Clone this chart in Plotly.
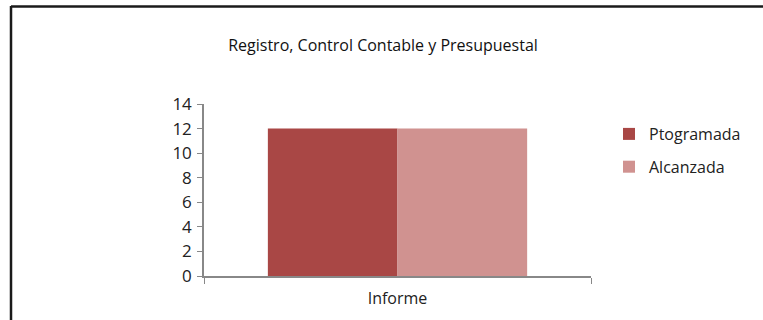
import plotly.graph_objects as go

categories = ["Informe"]
series_names = ["Ptogramada", "Alcanzada"]
programada = [12]
alcanzada = [12]
colors = ["#A94745", "#D09290"]

W, H = 763, 320
L, R, T, B = 204, 172, 104, 44
pw, ph = W - L - R, H - T - B

fig = go.Figure()
for name, vals, c in zip(series_names, [programada, alcanzada], colors):
    fig.add_trace(go.Bar(x=categories, y=vals, name=name, legendgroup=name,
                         marker=dict(color=c, line=dict(width=0))))

def px_x(v):
    return (v - L) / pw

def px_y(v):
    return (H - B - v) / ph

fig.add_shape(type="line", xref="paper", yref="paper",
              x0=px_x(11), x1=px_x(770), y0=px_y(6.5), y1=px_y(6.5),
              line=dict(color="#1a1a1a", width=2.5), layer="above")
fig.add_shape(type="line", xref="paper", yref="paper",
              x0=px_x(11), x1=px_x(11), y0=px_y(6), y1=px_y(330),
              line=dict(color="#1a1a1a", width=2.5), layer="above")

fig.update_layout(
    width=W, height=H,
    margin=dict(l=L, r=R, t=T, b=B),
    paper_bgcolor="white", plot_bgcolor="white",
    barmode="group", bargap=0.33, bargroupgap=0,
    font=dict(family="Open Sans", size=16, color="#222"),
    title=dict(text="Registro, Control Contable y Presupuestal", x=px_x(383), xanchor="center",
               xref="paper", y=1 - 45 / H, yanchor="middle",
               font=dict(size=16, color="#111")),
    xaxis=dict(showline=True, linecolor="#888", linewidth=1.5, ticks="outside", tickson="boundaries",
               ticklen=6, tickcolor="#888", showgrid=False, tickfont=dict(size=16), fixedrange=True,
               ticklabelstandoff=7),
    yaxis=dict(range=[0, 14], dtick=2, showline=True, linecolor="#888", linewidth=1.5, ticks="outside",
               ticklen=5, tickcolor="#888", showgrid=False, zeroline=False, tickfont=dict(size=17),
               ticklabelstandoff=2, fixedrange=True),
    legend=dict(x=px_x(609), y=px_y(117), xanchor="left", yanchor="top", font=dict(size=16),
                tracegroupgap=9, itemwidth=30, bgcolor="rgba(0,0,0,0)"),
    showlegend=True,
)

fig.write_html("out.html", config={"displayModeBar": False},
               post_script="document.body.style.margin='0';document.body.style.padding='0';")
